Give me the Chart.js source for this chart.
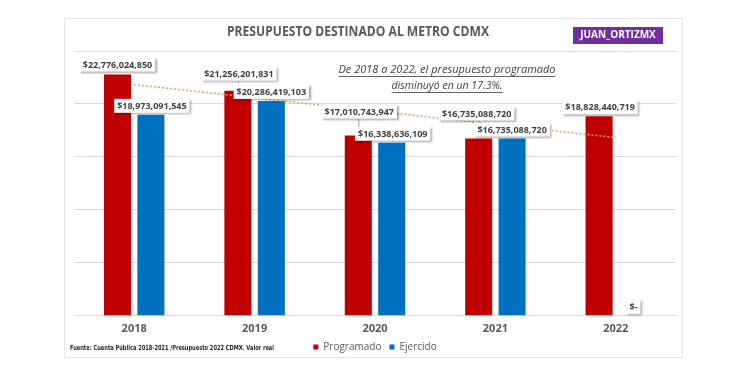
<!DOCTYPE html>
<html>
<head>
<meta charset="utf-8">
<script src="https://cdn.jsdelivr.net/npm/chart.js@4/dist/chart.umd.min.js"></script>
<style>
  html, body { margin: 0; padding: 0; background: #ffffff; }
  #wrap { width: 750px; height: 375px; position: relative; }
</style>
</head>
<body>
<div id="wrap"><canvas id="c" width="750" height="375"></canvas></div>
<script>
// ---- Data ----
const years = ['2018', '2019', '2020', '2021', '2022'];
const programado = [22776024850, 21256201831, 17010743947, 16735088720, 18828440719];
const ejercido = [18973091545, 20286419103, 16338636109, 16735088720, 0];
// trend line of "Programado" (endpoints only)
const trendProgramado = [21830000000, null, null, null, 16820000000];
const yTicks = [0, 5000000000, 10000000000, 15000000000, 20000000000, 25000000000];

// ---- Texts ----
const titleText = 'PRESUPUESTO DESTINADO AL METRO CDMX';
const badgeText = 'JUAN_ORTIZMX';
const noteLines = ['De 2018 a 2022, el presupuesto programado', 'disminuyó en un 17.3%.'];
const sourceText = 'Fuente: Cuenta Pública 2018-2021 /Presupuesto 2022 CDMX. Valor real';

// ---- Label placement (offsets from bar top, px) ----
const offsProg = [[0, -10], [1, -17], [1, -24], [-2, -25], [1, -9]];
const offsEjer = [[1, -9], [0, -9], [1, -9], [0, -9], [1, -9]];

const RED = '#c00000', BLUE = '#0070c0';

function fmt(v) {
  if (!v) return '$-';
  return '$' + v.toLocaleString('en-US');
}

const decor = {
  id: 'decor',
  beforeDraw(chart) {
    const ctx = chart.ctx;
    ctx.save();
    ctx.fillStyle = '#ffffff';
    ctx.fillRect(0, 0, chart.width, chart.height);
    // card
    ctx.strokeStyle = '#e3e3e3';
    ctx.lineWidth = 1;
    ctx.strokeRect(64.5, 18.5, 618, 339);
    // title
    ctx.fillStyle = '#595959';
    ctx.font = 'bold 14px "Open Sans", sans-serif';
    ctx.textAlign = 'center';
    ctx.textBaseline = 'middle';
    ctx.fillText(titleText, 358, 32, 262);
    // badge
    ctx.fillStyle = '#7030a0';
    ctx.fillRect(573, 27, 90, 17);
    ctx.fillStyle = '#ffffff';
    ctx.font = 'bold 10px "Open Sans", sans-serif';
    ctx.fillText(badgeText, 618, 35.5, 78);
    // note
    ctx.fillStyle = '#404040';
    ctx.font = 'italic 11px "Open Sans", sans-serif';
    ctx.strokeStyle = '#404040';
    ctx.lineWidth = 0.8;
    const ny = [70, 86];
    const nw = [217, 111];
    noteLines.forEach((t, i) => {
      const w = Math.min(ctx.measureText(t).width, nw[i]);
      ctx.fillText(t, 447, ny[i], nw[i]);
      ctx.beginPath();
      ctx.moveTo(447 - w / 2, ny[i] + 6.5);
      ctx.lineTo(447 + w / 2, ny[i] + 6.5);
      ctx.stroke();
    });
    // source
    ctx.fillStyle = '#262626';
    ctx.font = 'bold 7px "Liberation Sans Narrow", "DejaVu Sans Condensed", sans-serif';
    ctx.textAlign = 'left';
    ctx.fillText(sourceText, 70, 348, 204);
    ctx.restore();
  },
  afterDatasetsDraw(chart) {
    const ctx = chart.ctx;
    ctx.save();
    ctx.font = 'bold 9px "Open Sans", sans-serif';
    ctx.textAlign = 'center';
    ctx.textBaseline = 'middle';
    const sets = [[0, programado, offsProg], [1, ejercido, offsEjer]];
    sets.forEach(([di, vals, offs]) => {
      const meta = chart.getDatasetMeta(di);
      meta.data.forEach((bar, i) => {
        const txt = fmt(vals[i]);
        const cx = bar.x + offs[i][0];
        const cy = bar.y + offs[i][1];
        const w = ctx.measureText(txt).width + 6;
        const h = 14;
        if (offs[i][1] < -12) {
          ctx.strokeStyle = '#a6a6a6';
          ctx.lineWidth = 1;
          ctx.beginPath();
          ctx.moveTo(bar.x + 0.5, cy + h / 2);
          ctx.lineTo(bar.x + 0.5, bar.y - 8);
          ctx.stroke();
        }
        ctx.save();
        ctx.shadowColor = 'rgba(0,0,0,0.35)';
        ctx.shadowBlur = 2;
        ctx.shadowOffsetX = 1.5;
        ctx.shadowOffsetY = 1.5;
        ctx.fillStyle = '#ffffff';
        ctx.fillRect(cx - w / 2, cy - h / 2, w, h);
        ctx.restore();
        ctx.fillStyle = '#404040';
        ctx.fillText(txt, cx, cy + 0.5);
      });
    });
    ctx.restore();
  }
};

new Chart(document.getElementById('c'), {
  type: 'bar',
  data: {
    labels: years,
    datasets: [
      { label: 'Programado', data: programado, backgroundColor: RED, order: 1,
        categoryPercentage: 0.555, barPercentage: 0.81 },
      { label: 'Ejercido', data: ejercido, backgroundColor: BLUE, order: 1,
        categoryPercentage: 0.555, barPercentage: 0.81 },
      { type: 'line', label: 'trend', data: trendProgramado, spanGaps: true,
        borderColor: '#d9a35f', borderWidth: 1.5, borderDash: [2, 2],
        pointRadius: 0, fill: false, order: 0 }
    ]
  },
  options: {
    responsive: false,
    animation: false,
    layout: { padding: { left: 74, right: 74, top: 51, bottom: 13 } },
    plugins: {
      tooltip: { enabled: false },
      legend: {
        position: 'bottom',
        labels: {
          boxWidth: 5, boxHeight: 5, padding: 8,
          color: '#595959',
          font: { family: '"Open Sans", sans-serif', size: 10 },
          filter: (item) => item.text !== 'trend'
        }
      }
    },
    scales: {
      x: {
        grid: { display: false, drawTicks: false },
        border: { display: false },
        ticks: { color: '#595959', font: { family: '"Open Sans", sans-serif', size: 11, weight: 'bold' }, padding: 6.5 },
        afterFit: (s) => { s.height -= 8; }
      },
      y: {
        min: yTicks[0], max: yTicks[yTicks.length - 1],
        afterBuildTicks: (s) => { s.ticks = yTicks.map(v => ({ value: v })); },
        grid: { color: '#d9d9d9', drawTicks: false },
        border: { display: false },
        ticks: { display: false }
      }
    }
  },
  plugins: [decor]
});
</script>
</body>
</html>
